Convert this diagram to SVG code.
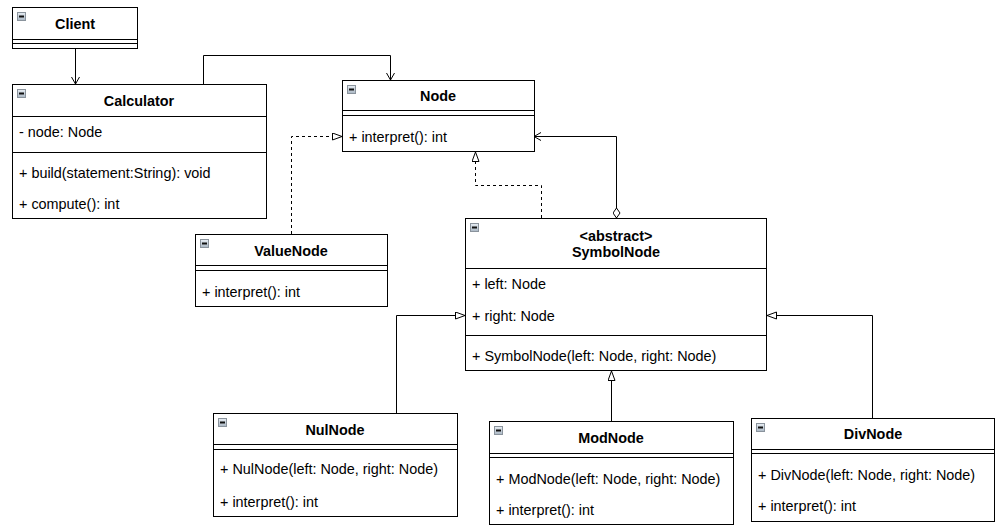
<svg xmlns="http://www.w3.org/2000/svg" width="1006" height="532" viewBox="0 0 1006 532">
<style>
.box{fill:#fff;stroke:#000;stroke-width:1}
.sep{stroke:#000;stroke-width:1;fill:none}
.t{font-family:"Liberation Sans",Arial,sans-serif;font-size:14.4px;font-weight:bold;text-anchor:middle;fill:#000}
.a{font-family:"Liberation Sans",Arial,sans-serif;font-size:14.4px;fill:#000}
.ico{fill:url(#g);stroke:#8a939c;stroke-width:1}
.icm{stroke:#111;stroke-width:2}
.c{fill:none;stroke:#000;stroke-width:1}
.d{stroke-dasharray:3,3}
</style>
<defs>
<linearGradient id="g" x1="0" y1="0" x2="0" y2="1"><stop offset="0" stop-color="#e8eef4"/><stop offset="1" stop-color="#a9b6c3"/></linearGradient>
<marker id="tri" markerUnits="userSpaceOnUse" markerWidth="12" markerHeight="10" refX="10" refY="4" orient="auto"><path d="M0.5,0.5 L10,4 L0.5,7.5 Z" fill="#fff" stroke="#000" stroke-width="1"/></marker>
<marker id="open" markerUnits="userSpaceOnUse" markerWidth="10" markerHeight="10" refX="7" refY="4" orient="auto"><path d="M0,0 L7,4 L0,8" fill="none" stroke="#000" stroke-width="1"/></marker>
<marker id="dia" markerUnits="userSpaceOnUse" markerWidth="12" markerHeight="10" refX="0.5" refY="4" orient="auto"><path d="M0.5,4 L5.5,0.5 L10.5,4 L5.5,7.5 Z" fill="#fff" stroke="#000" stroke-width="1"/></marker>
</defs>
<rect width="1006" height="532" fill="#fff"/>
<g id="connectors">
<path class="c" d="M75.5 48 V84" marker-end="url(#open)"/>
<path class="c" d="M203.5 84 V55.5 H390.5 V80" marker-end="url(#open)"/>
<path class="c d" d="M291.5 234 V136.5 H342" marker-end="url(#tri)"/>
<path class="c d" d="M541.5 218 V185.5 H475.5 V152" marker-end="url(#tri)"/>
<path class="c" d="M616.5 218 V136.5 H534" marker-start="url(#dia)" marker-end="url(#open)"/>
<path class="c" d="M396.5 413 V315.5 H465" marker-end="url(#tri)"/>
<path class="c" d="M611.5 421 V371" marker-end="url(#tri)"/>
<path class="c" d="M872.5 418 V315.5 H767" marker-end="url(#tri)"/>
</g>
<g id="Client">
<rect class="box" x="12.5" y="7.5" width="125" height="41"/>
<path class="sep" d="M12.5 39.5 H137.5 M12.5 43.5 H137.5"/>
<rect class="ico" x="17.5" y="12.5" width="8" height="8"/><path class="icm" d="M19 16.5 H24"/>
<text class="t" x="75" y="29">Client</text>
</g>
<g id="Calculator">
<rect class="box" x="12.5" y="84.5" width="254" height="134"/>
<path class="sep" d="M12.5 116.5 H266.5 M12.5 152.5 H266.5"/>
<rect class="ico" x="17.5" y="89.5" width="8" height="8"/><path class="icm" d="M19 93.5 H24"/>
<text class="t" x="139" y="106">Calculator</text>
<text class="a" x="19" y="137">- node: Node</text>
<text class="a" x="19" y="178">+ build(statement:String): void</text>
<text class="a" x="19" y="209">+ compute(): int</text>
</g>
<g id="Node">
<rect class="box" x="342.5" y="80.5" width="192" height="71"/>
<path class="sep" d="M342.5 110.5 H534.5 M342.5 115.5 H534.5"/>
<rect class="ico" x="347.5" y="85.5" width="8" height="8"/><path class="icm" d="M349 89.5 H354"/>
<text class="t" x="438" y="101">Node</text>
<text class="a" x="349" y="142">+ interpret(): int</text>
</g>
<g id="ValueNode">
<rect class="box" x="195.5" y="234.5" width="192" height="72"/>
<path class="sep" d="M195.5 265.5 H387.5 M195.5 270.5 H387.5"/>
<rect class="ico" x="200.5" y="239.5" width="8" height="8"/><path class="icm" d="M202 243.5 H207"/>
<text class="t" x="291" y="256">ValueNode</text>
<text class="a" x="202" y="297">+ interpret(): int</text>
</g>
<g id="SymbolNode">
<rect class="box" x="465.5" y="218.5" width="301" height="152"/>
<path class="sep" d="M465.5 268.5 H766.5 M465.5 335.5 H766.5"/>
<rect class="ico" x="470.5" y="223.5" width="8" height="8"/><path class="icm" d="M472 227.5 H477"/>
<text class="t" x="616" y="240.5">&lt;abstract&gt;</text>
<text class="t" x="616" y="257">SymbolNode</text>
<text class="a" x="472" y="289">+ left: Node</text>
<text class="a" x="472" y="321">+ right: Node</text>
<text class="a" x="472" y="361">+ SymbolNode(left: Node, right: Node)</text>
</g>
<g id="NulNode">
<rect class="box" x="213.5" y="413.5" width="244" height="103"/>
<path class="sep" d="M213.5 444.5 H457.5 M213.5 449.5 H457.5"/>
<rect class="ico" x="218.5" y="418.5" width="8" height="8"/><path class="icm" d="M220 422.5 H225"/>
<text class="t" x="335" y="435">NulNode</text>
<text class="a" x="220" y="474">+ NulNode(left: Node, right: Node)</text>
<text class="a" x="220" y="507">+ interpret(): int</text>
</g>
<g id="ModNode">
<rect class="box" x="489.5" y="421.5" width="244" height="103"/>
<path class="sep" d="M489.5 453.5 H733.5 M489.5 457.5 H733.5"/>
<rect class="ico" x="494.5" y="426.5" width="8" height="8"/><path class="icm" d="M496 430.5 H501"/>
<text class="t" x="611" y="443">ModNode</text>
<text class="a" x="496" y="484">+ ModNode(left: Node, right: Node)</text>
<text class="a" x="496" y="515">+ interpret(): int</text>
</g>
<g id="DivNode">
<rect class="box" x="751.5" y="418.5" width="243" height="103"/>
<path class="sep" d="M751.5 449.5 H994.5 M751.5 453.5 H994.5"/>
<rect class="ico" x="756.5" y="423.5" width="8" height="8"/><path class="icm" d="M758 427.5 H763"/>
<text class="t" x="873" y="439">DivNode</text>
<text class="a" x="758" y="480">+ DivNode(left: Node, right: Node)</text>
<text class="a" x="758" y="511">+ interpret(): int</text>
</g>
</svg>
